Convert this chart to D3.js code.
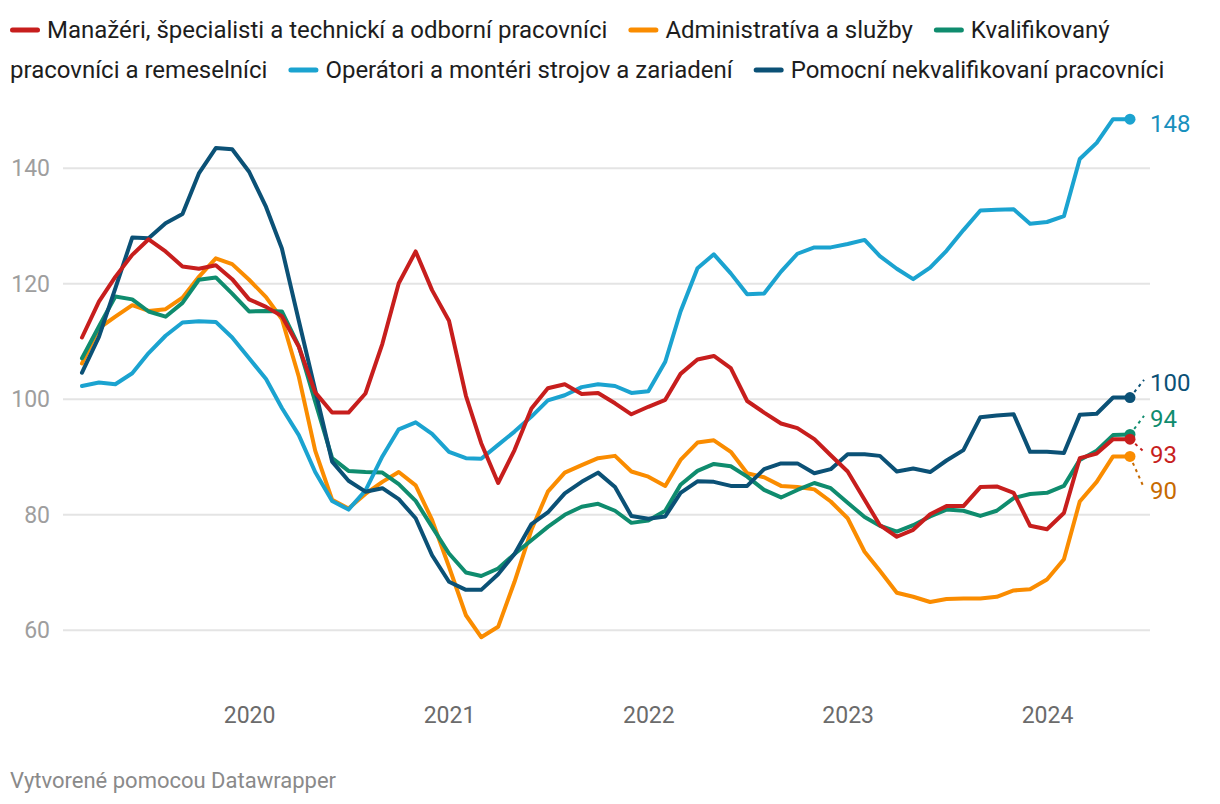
<!DOCTYPE html>
<html>
<head>
<meta charset="utf-8">
<script src="https://cdn.jsdelivr.net/npm/d3@7"></script>
<style>
  html, body { margin:0; padding:0; background:#fff; }
  body { width:1220px; height:804px; position:relative; overflow:hidden; font-family: Roboto, "Noto Sans", sans-serif; }
  svg { position:absolute; left:0; top:0; }
</style>
</head>
<body>
<svg id="chart" width="1220" height="804"></svg>
<script>
// ---- data ----
const months = [
  "2019-03","2019-04","2019-05","2019-06","2019-07","2019-08","2019-09","2019-10","2019-11","2019-12",
  "2020-01","2020-02","2020-03","2020-04","2020-05","2020-06","2020-07","2020-08","2020-09","2020-10","2020-11","2020-12",
  "2021-01","2021-02","2021-03","2021-04","2021-05","2021-06","2021-07","2021-08","2021-09","2021-10","2021-11","2021-12",
  "2022-01","2022-02","2022-03","2022-04","2022-05","2022-06","2022-07","2022-08","2022-09","2022-10","2022-11","2022-12",
  "2023-01","2023-02","2023-03","2023-04","2023-05","2023-06","2023-07","2023-08","2023-09","2023-10","2023-11","2023-12",
  "2024-01","2024-02","2024-03","2024-04","2024-05","2024-06"
];
const seriesNames = [
  "Manažéri, špecialisti a technickí a odborní pracovníci",
  "Administratíva a služby",
  "Kvalifikovaný pracovníci a remeselníci",
  "Operátori a montéri strojov a zariadení",
  "Pomocní nekvalifikovaní pracovníci"
];
const manazeri = [110.6,116.8,121.1,124.9,127.6,125.5,122.9,122.5,123.1,120.7,117.2,115.9,114.3,109.0,101.1,97.6,97.6,100.9,109.5,120.0,125.5,118.8,113.5,100.5,92.3,85.4,91.1,98.3,101.8,102.5,100.8,101.0,99.2,97.3,98.6,99.8,104.3,106.8,107.4,105.3,99.6,97.6,95.7,94.9,93.0,90.2,87.4,82.5,78.1,76.1,77.3,80.0,81.4,81.4,84.7,84.8,83.7,78.0,77.4,80.2,89.7,90.5,93.0,93.0];
const administrativa = [106.1,112.2,114.2,116.2,115.2,115.5,117.5,121.1,124.3,123.3,120.6,117.6,113.8,103.8,91.0,82.5,81.0,83.5,85.6,87.3,85.0,79.0,70.9,62.5,58.7,60.5,68.3,77.3,83.9,87.2,88.5,89.7,90.1,87.4,86.5,84.9,89.4,92.4,92.8,90.8,87.1,86.4,84.9,84.7,84.3,82.2,79.3,73.5,70.2,66.4,65.7,64.8,65.3,65.4,65.4,65.7,66.8,67.0,68.7,72.2,82.2,85.6,90.0,90.0];
const kvalifikovani = [107.0,112.5,117.7,117.2,115.1,114.2,116.6,120.6,121.0,118.2,115.1,115.2,115.1,109.1,99.5,89.7,87.5,87.3,87.2,85.2,82.3,77.8,73.2,69.9,69.3,70.6,73.1,75.5,77.8,79.9,81.3,81.8,80.6,78.5,78.9,80.6,85.1,87.5,88.7,88.3,86.5,84.2,82.9,84.2,85.4,84.5,82.0,79.5,78.0,77.0,78.1,79.6,80.8,80.6,79.7,80.6,82.8,83.5,83.7,84.9,89.4,91.0,93.7,93.8];
const operatori = [102.2,102.8,102.5,104.4,107.9,110.9,113.2,113.4,113.3,110.6,107.0,103.4,98.4,93.7,87.3,82.3,80.8,84.1,90.0,94.7,95.9,93.9,90.8,89.7,89.6,92.0,94.3,96.9,99.7,100.6,102.0,102.5,102.2,101.0,101.3,106.4,115.1,122.6,125.0,121.7,118.1,118.2,122.0,125.1,126.2,126.2,126.8,127.5,124.7,122.5,120.7,122.7,125.6,129.2,132.6,132.7,132.8,130.3,130.6,131.6,141.5,144.3,148.4,148.4];
const pomocni = [104.5,110.7,119.1,127.9,127.8,130.4,132.0,139.0,143.4,143.2,139.3,133.2,126.0,113.5,101.5,89.1,85.8,83.9,84.5,82.6,79.3,72.9,68.3,66.9,66.9,69.6,73.1,78.3,80.3,83.6,85.6,87.2,84.7,79.7,79.2,79.6,83.7,85.7,85.6,84.9,84.9,87.8,88.8,88.8,87.1,87.8,90.4,90.4,90.1,87.4,87.9,87.3,89.3,91.1,96.8,97.1,97.3,90.8,90.8,90.6,97.2,97.4,100.2,100.2];
const endLabels = ["93","90","94","148","100"];
const yTicks = [60, 80, 100, 120, 140];
const xTickLabels = ["2020","2021","2022","2023","2024"];
const footerText = "Vytvorené pomocou Datawrapper";

// ---- styles ----
const lineColors  = ["#c71e1d", "#fa8c00", "#0f8c6e", "#1ba3d0", "#0b5176"];
const labelColors = ["#c71e1d", "#c76a00", "#0f8c6e", "#1790bd", "#0b5176"];
const values = [manazeri, administrativa, kvalifikovani, operatori, pomocni];
const drawOrder = [1, 2, 3, 4, 0];
const FONT = "Roboto, 'Noto Sans', sans-serif";

const parse = d3.timeParse("%Y-%m");
const dates = months.map(parse);
const series = seriesNames.map((name, i) => ({
  name, i, color: lineColors[i], labelColor: labelColors[i], label: endLabels[i],
  points: dates.map((d, j) => ({ d, v: values[i][j] }))
}));

const svg = d3.select("#chart");

// ---- legend (flowing, wraps words like the original) ----
const lg = svg.append("g").attr("font-family", FONT).attr("font-size", 24).attr("fill", "#1d1d1d");
const measurer = lg.append("text").attr("visibility", "hidden");
const tw = s => { measurer.text(s); return measurer.node().getComputedTextLength(); };
const L = { left: 10, right: 1210, base0: 38, lineH: 40, sw: 30, swGap: 7, itemGap: 21 };
let cx = L.left, row = 0;
series.forEach(s => {
  const words = s.name.split(" ");
  if (cx + L.sw + L.swGap + tw(words[0]) > L.right) { row++; cx = L.left; }
  lg.append("rect").attr("x", cx).attr("y", L.base0 + row * L.lineH - 10.5)
    .attr("width", L.sw).attr("height", 5).attr("rx", 2.5).attr("fill", s.color);
  cx += L.sw + L.swGap;
  let seg = "";
  const emit = () => {
    lg.append("text").attr("x", cx).attr("y", L.base0 + row * L.lineH).text(seg);
  };
  words.forEach(w => {
    const test = seg ? seg + " " + w : w;
    if (seg && cx + tw(test) > L.right) { emit(); row++; cx = L.left; seg = w; }
    else seg = test;
  });
  emit();
  cx += tw(seg) + L.itemGap;
});
measurer.remove();

// ---- scales ----
const x = d3.scaleTime().domain([dates[0], dates[dates.length - 1]]).range([82, 1130]);
const y = d3.scaleLinear().domain([60, 140]).range([629.7, 167.7]);

// grid + y labels
const yAxis = d3.axisLeft(y).tickValues(yTicks).tickSize(-(1150 - 63)).tickPadding(13);
const gy = svg.append("g").attr("transform", "translate(63,0)").call(yAxis);
gy.select(".domain").remove();
gy.selectAll(".tick line").attr("stroke", "#e4e4e4").attr("stroke-width", 2);
gy.selectAll(".tick text")
  .attr("fill", "#9e9e9e").attr("font-size", 23).attr("font-family", FONT)
  .attr("dy", "0.35em");

// x labels
const xTickDates = xTickLabels.map(t => d3.timeParse("%Y")(t));
const xAxis = d3.axisBottom(x).tickValues(xTickDates).tickFormat(d3.timeFormat("%Y")).tickSize(0).tickPadding(0);
const gx = svg.append("g").attr("transform", "translate(0,723)").call(xAxis);
gx.select(".domain").remove();
gx.selectAll(".tick text")
  .attr("fill", "#6b6b6b").attr("font-size", 23).attr("font-family", FONT)
  .attr("dy", 0);

// lines
const line = d3.line().x(p => x(p.d)).y(p => y(p.v));
drawOrder.forEach(i => {
  const s = series[i];
  svg.append("path").datum(s.points)
    .attr("fill", "none").attr("stroke", s.color).attr("stroke-width", 4)
    .attr("stroke-linejoin", "round").attr("stroke-linecap", "round")
    .attr("d", line);
});

// end labels with simple collision avoidance
const labs = series.map(s => {
  const last = s.points[s.points.length - 1];
  return { s, dx: x(last.d), dotY: y(last.v), y: y(last.v) };
}).sort((a, b) => a.dotY - b.dotY);
const gap = 36;
for (let k = 0; k < 200; k++) {
  for (let j = 0; j < labs.length - 1; j++) {
    const a = labs[j], b = labs[j + 1];
    const ov = gap - (b.y - a.y);
    if (ov > 0) { a.y -= ov / 2; b.y += ov / 2; }
  }
}
const gl = svg.append("g");
labs.forEach(l => {
  if (Math.abs(l.y - l.dotY) > 3) {
    gl.append("line")
      .attr("x1", l.dx).attr("y1", l.dotY)
      .attr("x2", l.dx + 14).attr("y2", l.y + 2)
      .attr("stroke", l.s.labelColor).attr("stroke-width", 2)
      .attr("stroke-dasharray", "3,4");
  }
});
drawOrder.forEach(i => {
  const l = labs.find(o => o.s.i === i);
  gl.append("circle").attr("cx", l.dx).attr("cy", l.dotY).attr("r", 5.5).attr("fill", l.s.color);
});
labs.forEach(l => {
  gl.append("text")
    .attr("x", l.dx + 20).attr("y", l.y + 4).attr("dy", "0.36em")
    .attr("fill", l.s.labelColor).attr("font-size", 24).attr("font-family", FONT)
    .text(l.s.label);
});

// footer
svg.append("text").attr("x", 10).attr("y", 788)
  .attr("fill", "#8a8a8a").attr("font-size", 22).attr("font-family", FONT)
  .text(footerText);
</script>
</body>
</html>
